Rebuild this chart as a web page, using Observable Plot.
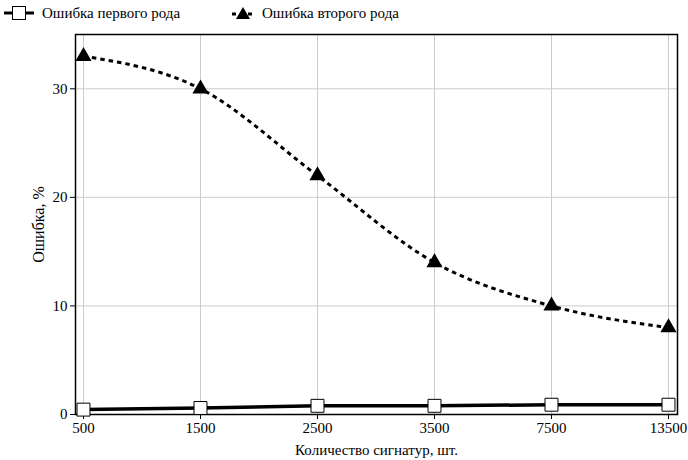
<!DOCTYPE html>
<html><head><meta charset="utf-8">
<script src="https://cdn.jsdelivr.net/npm/d3@7"></script>
<script src="https://cdn.jsdelivr.net/npm/@observablehq/plot@0.6"></script>
<style>
body{margin:0;background:#fff;font-family:"Liberation Serif","DejaVu Serif",serif;}
#legend{height:26px;position:relative;font-size:15px;color:#000;}
#legend .item{position:absolute;top:4px;display:flex;align-items:center;}
#legend svg{margin-right:8px;}
</style></head><body>
<div id="legend"></div>
<div id="chart"></div>
<script>
const categories = ["500","1500","2500","3500","7500","13500"];
const series1Name = "Ошибка первого рода";
const series2Name = "Ошибка второго рода";
const series1 = [0.45, 0.6, 0.8, 0.8, 0.9, 0.9];
const series2 = [33, 30, 22, 14, 10, 8];
const yTicks = [0, 10, 20, 30];
const xLabel = "Количество сигнатур, шт.";
const yLabel = "Ошибка, %";

const d1 = categories.map((c,i)=>({x:c,y:series1[i]}));
const d2 = categories.map((c,i)=>({x:c,y:series2[i]}));

const FONT = "'Liberation Serif', 'DejaVu Serif', serif";

// legend
const lg = document.getElementById("legend");
lg.innerHTML = `
<div class="item" style="left:4px"><svg width="30" height="18"><line x1="0" y1="9" x2="30" y2="9" stroke="#000" stroke-width="3"/><rect x="8.5" y="2.5" width="13" height="13" fill="#fff" stroke="#000"/></svg><span>${series1Name}</span></div>
<div class="item" style="left:232px"><svg width="22" height="18"><line x1="0" y1="10" x2="22" y2="10" stroke="#000" stroke-width="3" stroke-dasharray="4,4"/><path d="M11,3 L18,15 L4,15 Z" fill="#000"/></svg><span>${series2Name}</span></div>`;

const chart = Plot.plot({
  width: 688,
  height: 434,
  marginLeft: 75,
  marginRight: 11,
  marginTop: 8,
  marginBottom: 46,
  style: {fontFamily: FONT, fontSize: "15px", color: "#000", background: "#fff"},
  x: {type: "point", domain: categories, insetLeft: 8, insetRight: 9, padding: 0, label: null},
  y: {domain: [0, 35], label: null},
  marks: [
    Plot.gridX(categories, {stroke: "#ccc", strokeOpacity: 1}),
    Plot.gridY(yTicks, {stroke: "#ccc", strokeOpacity: 1}),
    Plot.frame({stroke: "#000", strokeWidth: 1.5}),
    Plot.axisX(categories, {tickSize: 5, tickPadding: 3, fontSize: 15, label: null}),
    Plot.axisY(yTicks, {tickSize: 5, tickPadding: 3, fontSize: 15, label: null}),
    Plot.text([xLabel], {frameAnchor: "bottom", dy: 40, fontSize: 15}),
    Plot.text([yLabel], {frameAnchor: "left", dx: -37, rotate: -90, textAnchor: "middle", fontSize: 16}),
    Plot.line(d1, {x: "x", y: "y", stroke: "#000", strokeWidth: 3.5}),
    Plot.line(d2, {x: "x", y: "y", stroke: "#000", strokeWidth: 3, strokeDasharray: "4.5,4", strokeLinecap: "butt", curve: "monotone-x"}),
    Plot.dot(d1, {x: "x", y: "y", symbol: "square", r: 7.3, fill: "#fff", stroke: "#000", strokeWidth: 1}),
    Plot.dot(d2, {x: "x", y: "y", symbol: "triangle", r: 6, fill: "#000", stroke: "none"})
  ]
});
document.getElementById("chart").appendChild(chart);
</script>
</body></html>
